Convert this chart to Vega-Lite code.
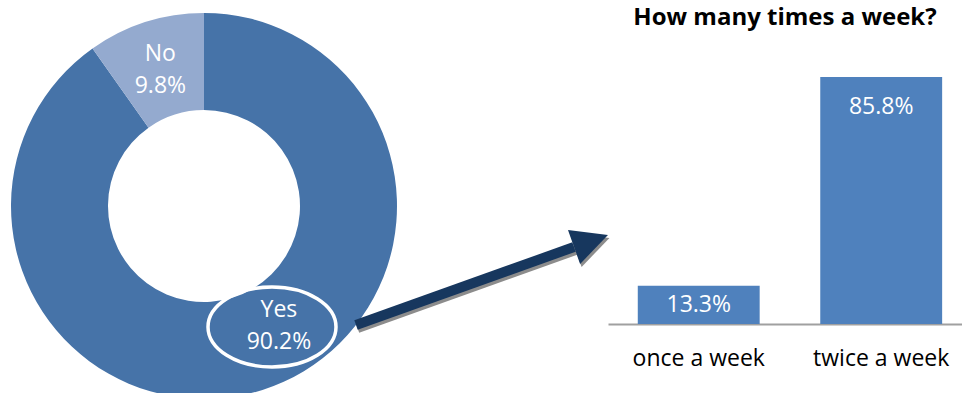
{
  "$schema": "https://vega.github.io/schema/vega-lite/v6.json",
  "padding": {"left": 0, "right": 0, "top": 6, "bottom": 0},
  "bounds": "flush",
  "spacing": 200,
  "background": "white",
  "config": {"view": {"stroke": null}, "font": "Open Sans"},
  "datasets": {
    "visits": [
      {"answer": "Yes", "pct": 90.2},
      {"answer": "No", "pct": 9.8}
    ],
    "freq": [
      {"frequency": "once a week", "pct": 13.3},
      {"frequency": "twice a week", "pct": 85.8}
    ]
  },
  "hconcat": [
    {
      "width": 408,
      "height": 340,
      "layer": [
        {
          "data": {"name": "visits"},
          "transform": [
            {"calculate": "[datum.answer, format(datum.pct, '.1f') + '%']", "as": "label"}
          ],
          "encoding": {
            "theta": {"field": "pct", "type": "quantitative", "stack": true},
            "order": {"field": "answer", "sort": "descending"}
          },
          "layer": [
            {
              "mark": {"type": "arc", "innerRadius": 96, "outerRadius": 193},
              "encoding": {
                "color": {
                  "field": "answer",
                  "type": "nominal",
                  "scale": {"domain": ["Yes", "No"], "range": ["#4673A8", "#94AACF"]},
                  "legend": null
                }
              }
            },
            {
              "mark": {"type": "text", "radius": 144, "fontSize": 23, "lineHeight": 32, "color": "white", "baseline": "middle", "align": "center", "dy": -15},
              "encoding": {
                "text": {"condition": {"test": "datum.answer === 'No'", "field": "label"}, "value": ""}
              }
            },
            {
              "transform": [{"filter": "datum.answer === 'Yes'"}],
              "mark": {"type": "text", "radius": 140.7, "thetaOffset": -0.254, "fontSize": 23, "lineHeight": 32, "color": "white", "baseline": "middle", "align": "center", "dy": -15},
              "encoding": {"text": {"field": "label"}}
            }
          ]
        },
        {
          "data": {"values": [{}]},
          "mark": {"type": "point", "shape": "M -1 0 A 1 0.625 0 1 1 1 0 A 1 0.625 0 1 1 -1 0 Z", "size": 16384, "filled": false, "color": "white", "strokeWidth": 3.5, "opacity": 1},
          "encoding": {
            "x": {"datum": 272, "type": "quantitative", "scale": {"domain": [0, 408], "nice": false, "zero": false}, "axis": null},
            "y": {"datum": 291, "type": "quantitative", "scale": {"domain": [0, 340], "nice": false, "zero": false, "reverse": true}, "axis": null}
          }
        },
        {
          "data": {"values": [{}]},
          "mark": {"type": "rule", "color": "#8C8C8C", "strokeWidth": 10, "strokeCap": "butt"},
          "encoding": {
            "x": {"datum": 357.5, "type": "quantitative"},
            "y": {"datum": 292, "type": "quantitative"},
            "x2": {"datum": 575.5},
            "y2": {"datum": 214}
          }
        },
        {
          "data": {"values": [{}]},
          "mark": {"type": "point", "shape": "M 1 0 L -1 -1 L -1 1 Z", "size": 1296, "filled": true, "color": "#8C8C8C", "opacity": 1, "angle": 340.35},
          "encoding": {
            "x": {"datum": 592.5, "type": "quantitative"},
            "y": {"datum": 208, "type": "quantitative"}
          }
        },
        {
          "data": {"values": [{}]},
          "mark": {"type": "rule", "color": "#17375E", "strokeWidth": 10, "strokeCap": "butt"},
          "encoding": {
            "x": {"datum": 356, "type": "quantitative"},
            "y": {"datum": 289, "type": "quantitative"},
            "x2": {"datum": 574},
            "y2": {"datum": 211}
          }
        },
        {
          "data": {"values": [{}]},
          "mark": {"type": "point", "shape": "M 1 0 L -1 -1 L -1 1 Z", "size": 1296, "filled": true, "color": "#17375E", "opacity": 1, "angle": 340.35},
          "encoding": {
            "x": {"datum": 591, "type": "quantitative"},
            "y": {"datum": 205, "type": "quantitative"}
          }
        }
      ]
    },
    {
      "width": 354,
      "height": 288,
      "data": {"name": "freq"},
      "title": {"text": "How many times a week?", "fontSize": 24, "fontWeight": "bold", "font": "Open Sans", "color": "black", "offset": 6},
      "transform": [{"calculate": "format(datum.pct, '.1f') + '%'", "as": "label"}],
      "encoding": {
        "x": {
          "field": "frequency",
          "type": "nominal",
          "sort": null,
          "scale": {"paddingInner": 0.332, "paddingOuter": 0.136, "align": 0.6},
          "axis": {"title": null, "labelAngle": 0, "labelFontSize": 23, "labelFont": "Open Sans", "labelColor": "black", "labelPadding": 23, "ticks": false, "domainColor": "#A0A0A0", "domainWidth": 2, "grid": false}
        },
        "y": {"field": "pct", "type": "quantitative", "scale": {"domain": [0, 100], "nice": false}, "axis": null}
      },
      "layer": [
        {"mark": {"type": "bar", "color": "#4F81BD"}},
        {
          "transform": [{"filter": "datum.pct > 50"}],
          "mark": {"type": "text", "color": "white", "fontSize": 23, "baseline": "middle", "dy": 30},
          "encoding": {"text": {"field": "label"}}
        },
        {
          "transform": [{"filter": "datum.pct <= 50"}],
          "mark": {"type": "text", "color": "white", "fontSize": 23, "baseline": "middle", "dy": 19},
          "encoding": {"text": {"field": "label"}}
        }
      ]
    }
  ]
}
